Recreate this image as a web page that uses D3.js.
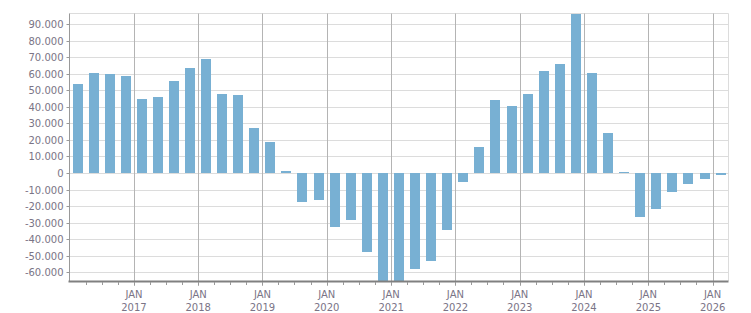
<!DOCTYPE html>
<meta charset="utf-8">
<script src="https://d3js.org/d3.v7.min.js"></script>
<style>
  body { margin: 0; background: #fff; overflow: hidden; }
  svg { display: block; }
  text { font-family: "DejaVu Sans", Verdana, sans-serif; font-size: 10px; fill: #7a7486; }
</style>
<body>
<div id="chart"></div>
<script>
var quarters = ["2016Q1","2016Q2","2016Q3","2016Q4","2017Q1","2017Q2","2017Q3","2017Q4",
  "2018Q1","2018Q2","2018Q3","2018Q4","2019Q1","2019Q2","2019Q3","2019Q4",
  "2020Q1","2020Q2","2020Q3","2020Q4","2021Q1","2021Q2","2021Q3","2021Q4",
  "2022Q1","2022Q2","2022Q3","2022Q4","2023Q1","2023Q2","2023Q3","2023Q4",
  "2024Q1","2024Q2","2024Q3","2024Q4","2025Q1","2025Q2","2025Q3","2025Q4","2026Q1"];

var values = [53800, 60400, 59800, 58600, 44700, 45900, 55600, 63400,
  68900, 47700, 47100, 27200, 18700, 1200, -17300, -16100,
  -32600, -28400, -47500, -72000, -70000, -57800, -53000, -34200,
  -5200, 15700, 44100, 40500, 47700, 61600, 65900, 96100,
  60400, 24200, 600, -26400, -21600, -11500, -6400, -3400, -1000];

var yTicks = [-60000, -50000, -40000, -30000, -20000, -10000, 0, 10000, 20000,
  30000, 40000, 50000, 60000, 70000, 80000, 90000];
var yearTicks = [2017, 2018, 2019, 2020, 2021, 2022, 2023, 2024, 2025, 2026];

(function() {
var width = 751, height = 313,
    pL = 69.5, pR = 728.5, pT = 13.5, pB = 281;

var locale = d3.formatLocale({decimal: ",", thousands: ".", grouping: [3], currency: ["", "€"], minus: "-"});
var fmt = locale.format(",d");

function qStart(q) {
  return new Date(+q.slice(0, 4), (+q.slice(5) - 1) * 3, 1);
}

var x = d3.scaleTime()
  .domain([new Date(2016, 0, 1), new Date(2026, 3, 1)])
  .range([pL, pR]);

var y = d3.scaleLinear()
  .domain([-65300, 96700])
  .range([pB, pT - 0.5]);

var svg = d3.select("#chart")
  .append("svg")
    .attr("width", width)
    .attr("height", height);

svg.append("defs").append("clipPath")
    .attr("id", "plot")
  .append("rect")
    .attr("x", pL)
    .attr("y", pT - 0.5)
    .attr("width", pR - pL)
    .attr("height", pB - pT + 0.5);

// horizontal grid
svg.append("g")
  .selectAll("line")
  .data(yTicks)
  .enter().append("line")
    .attr("x1", pL)
    .attr("x2", pR)
    .attr("y1", function(d) { return Math.round(y(d)) + 0.5; })
    .attr("y2", function(d) { return Math.round(y(d)) + 0.5; })
    .attr("stroke", "#dcdcdc");

svg.append("line")
  .attr("x1", pL).attr("x2", pR)
  .attr("y1", pT).attr("y2", pT)
  .attr("stroke", "#dcdcdc");

svg.append("line")
  .attr("x1", pR).attr("x2", pR)
  .attr("y1", pT).attr("y2", pB)
  .attr("stroke", "#dcdcdc");

// yearly vertical grid
svg.append("g")
  .selectAll("line")
  .data(yearTicks)
  .enter().append("line")
    .attr("x1", function(d) { return Math.round(x(new Date(d, 0, 1))) + 0.5; })
    .attr("x2", function(d) { return Math.round(x(new Date(d, 0, 1))) + 0.5; })
    .attr("y1", pT)
    .attr("y2", pB + 5)
    .attr("stroke", "#b4b4b4");

// bars
svg.append("g")
    .attr("clip-path", "url(#plot)")
  .selectAll("rect")
  .data(quarters)
  .enter().append("rect")
    .attr("x", function(d) {
      var a = x(qStart(d)), b = x(d3.timeMonth.offset(qStart(d), 3));
      return Math.round((a + b) / 2 - 5);
    })
    .attr("width", 10)
    .attr("y", function(d, i) { return Math.round(y(Math.max(0, values[i]))); })
    .attr("height", function(d, i) { return Math.abs(Math.round(y(values[i])) - Math.round(y(0))); })
    .attr("fill", "#78b0d3");

// y axis
svg.append("line")
  .attr("x1", pL).attr("x2", pL)
  .attr("y1", pT).attr("y2", pB)
  .attr("stroke", "#999");

var yAxis = svg.append("g");
yAxis.selectAll("line")
  .data(yTicks)
  .enter().append("line")
    .attr("x1", pL - 3)
    .attr("x2", pL)
    .attr("y1", function(d) { return Math.round(y(d)) + 0.5; })
    .attr("y2", function(d) { return Math.round(y(d)) + 0.5; })
    .attr("stroke", "#999");
yAxis.selectAll("text")
  .data(yTicks)
  .enter().append("text")
    .attr("x", pL - 6)
    .attr("y", function(d) { return Math.round(y(d)) + 4; })
    .attr("text-anchor", "end")
    .text(function(d) { return fmt(d); });

// x axis
svg.append("line")
  .attr("x1", pL - 1).attr("x2", pR)
  .attr("y1", pB + 0.5).attr("y2", pB + 0.5)
  .attr("stroke", "#808080")
  .attr("stroke-width", 2);

svg.append("g")
  .selectAll("line")
  .data(quarters.slice(1))
  .enter().append("line")
    .attr("x1", function(d) { return Math.round(x(qStart(d))) + 0.5; })
    .attr("x2", function(d) { return Math.round(x(qStart(d))) + 0.5; })
    .attr("y1", pB + 1)
    .attr("y2", pB + 4)
    .attr("stroke", "#999");

var xLabels = svg.append("g")
  .selectAll("text")
  .data(yearTicks)
  .enter().append("text")
    .attr("text-anchor", "middle")
    .attr("x", function(d) { return x(new Date(d, 0, 1)); });
xLabels.append("tspan")
    .attr("y", 298)
    .text("JAN");
xLabels.append("tspan")
    .attr("x", function(d) { return x(new Date(d, 0, 1)); })
    .attr("y", 311)
    .text(function(d) { return d; });
})();
</script>
</body>
